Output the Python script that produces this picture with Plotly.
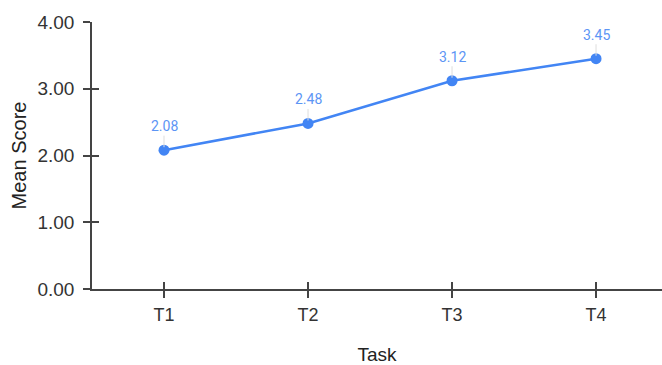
import plotly.graph_objects as go

tasks = ["T1", "T2", "T3", "T4"]
mean_scores = [2.08, 2.48, 3.12, 3.45]
y_ticks = [0, 1, 2, 3, 4]
y_tick_labels = ["0.00", "1.00", "2.00", "3.00", "4.00"]

blue = "#4285F4"
axis_font = dict(family="Liberation Sans, Arial, sans-serif", size=19, color="#333333")
xtick_font = dict(family="Liberation Sans, Arial, sans-serif", size=18, color="#333333")

fig = go.Figure()
fig.add_trace(go.Scatter(
    x=list(range(len(tasks))), y=mean_scores, mode="lines+markers",
    line=dict(color=blue, width=2.5), marker=dict(color=blue, size=11),
    showlegend=False, hoverinfo="skip",
))
# invisible trace to activate the overlaying axes (inside ticks)
fig.add_trace(go.Scatter(x=[0], y=[0], yaxis="y2", xaxis="x2", mode="markers",
                         marker=dict(opacity=0), showlegend=False, hoverinfo="skip"))

for i, v in enumerate(mean_scores):
    fig.add_annotation(
        x=i, y=v, text=f"{v:.2f}", showarrow=True, arrowhead=0, arrowwidth=1,
        arrowcolor="#dddddd", ax=0, ay=-24, standoff=3,
        font=dict(family="Roboto, sans-serif", size=14, color="#5c95f5"),
        borderpad=1,
    )

xr = [-0.5, 3.458]
fig.update_layout(
    width=662, height=365,
    margin=dict(l=92, r=0, t=22, b=76),
    paper_bgcolor="white", plot_bgcolor="white",
    xaxis=dict(
        range=xr, tickvals=list(range(len(tasks))), ticktext=tasks, automargin=False,
        showline=True, linecolor="#444444", linewidth=1.5,
        ticks="outside", ticklen=7, tickcolor="#444444", tickwidth=1.5,
        showgrid=False, zeroline=False, tickfont=xtick_font, ticklabelstandoff=2,
        title=dict(text="Task", font=dict(family="Liberation Sans, Arial, sans-serif", size=19, color="#222222"), standoff=31),
    ),
    xaxis2=dict(range=xr, overlaying="x", tickvals=list(range(len(tasks))),
                showticklabels=False, ticks="inside", ticklen=7, tickcolor="#444444",
                tickwidth=1.5, showgrid=False, zeroline=False, showline=False, anchor="y"),
    yaxis=dict(
        range=[0, 4], tickvals=y_ticks, ticktext=y_tick_labels, automargin=False,
        showline=True, linecolor="#444444", linewidth=1.5,
        ticks="outside", ticklen=7, tickcolor="#444444", tickwidth=1.5,
        showgrid=False, zeroline=False, tickfont=axis_font, ticklabelstandoff=5,
        title=dict(text="Mean Score", font=dict(family="Liberation Sans, Arial, sans-serif", size=20, color="#222222"), standoff=5),
    ),
    yaxis2=dict(range=[0, 4], overlaying="y", tickvals=y_ticks, showticklabels=False,
                ticks="inside", ticklen=7, tickcolor="#444444", tickwidth=1.5,
                showgrid=False, zeroline=False, showline=False, anchor="x"),
)
fig.write_html("out.html")
